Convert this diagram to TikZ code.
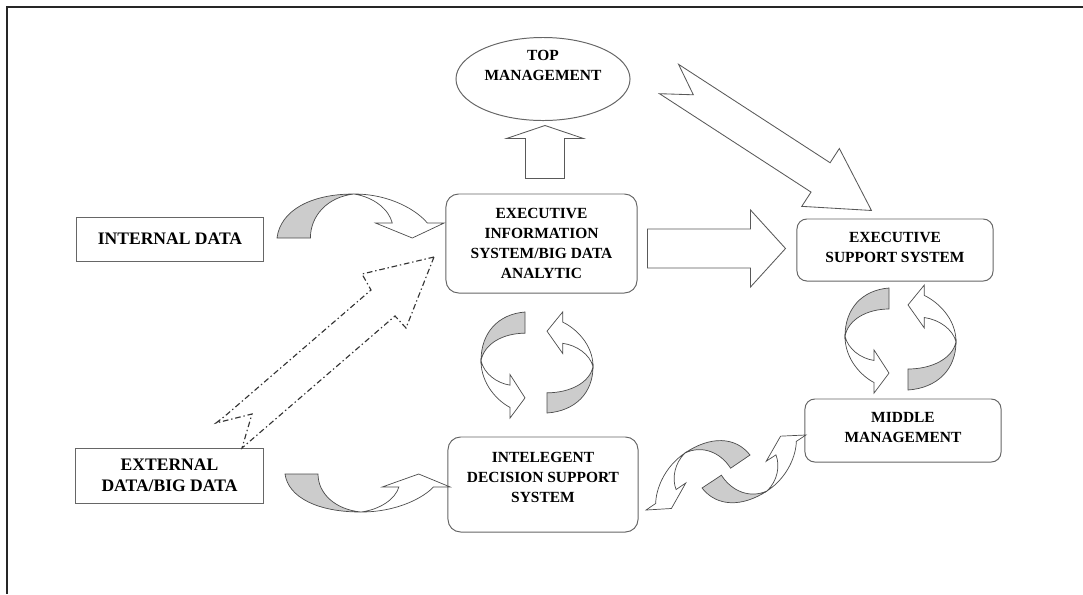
\documentclass[tikz,border=0pt]{standalone}
\usepackage{fontspec}
\setmainfont{Liberation Serif}
\usetikzlibrary{shapes.geometric, calc}

\begin{document}
\begin{tikzpicture}[
  x=0.025cm, y=-0.025cm,
  box/.style={draw=black!60, line width=0.7pt, align=center, inner sep=0pt, font=\fontsize{11}{14.2}\selectfont\bfseries},
  rbox/.style={box, rounded corners=9pt},
  bigtxt/.style={font=\fontsize{12.5}{15}\selectfont\bfseries},
  blk/.style={draw=black!65, line width=0.6pt, fill=white},
  dd/.style={draw=black!80, line width=0.8pt, dash pattern=on 4pt off 2pt on 1pt off 2pt},
  cback/.style={draw=black!70, line width=0.5pt, fill=black!20},
  cfront/.style={draw=black!70, line width=0.5pt, fill=white},
  carrow/.pic={
    \filldraw[cback] (0,0) -- (0.2,0) .. controls (0.2,0.5) and (0.3,0.93) .. (0.46,1)
      .. controls (0.2,1) and (0.02,0.62) .. (0,0) -- cycle;
    \filldraw[cfront] (0.46,1) .. controls (0.68,1) and (0.84,0.62) .. (0.9,0.34)
      -- (1,0.34) -- (0.81,0) -- (0.59,0.34) -- (0.69,0.34)
      .. controls (0.67,0.65) and (0.58,0.93) .. (0.46,1) -- cycle;
  }
]
\useasboundingbox (0,0) rectangle (1083,594);
\draw[line width=1.3pt, black!85] (1083,7) -- (7,7) -- (7,594);

\node[box, bigtxt, minimum width=4.65cm, minimum height=1.1cm] (intd) at (170,239) {INTERNAL DATA};
\node[box, bigtxt, minimum width=4.675cm, minimum height=1.375cm] (extd) at (169.5,475.5) {EXTERNAL\\DATA/BIG DATA};
\node[rbox, minimum width=4.775cm, minimum height=2.475cm] (eis) at (541.5,243.5) {EXECUTIVE\\INFORMATION\\SYSTEM/BIG DATA\\ANALYTIC};
\node[ellipse, draw=black!60, line width=0.7pt, minimum width=4.35cm, minimum height=2.075cm] (top) at (543,79) {};
\node[align=center, font=\fontsize{11}{14.2}\selectfont\bfseries] (topText) at (543,65) {TOP\\MANAGEMENT};
\node[rbox, rounded corners=7pt, text depth=4.2pt, minimum width=4.9cm, minimum height=1.55cm] (ess) at (895,250) {EXECUTIVE\\SUPPORT SYSTEM};
\node[rbox, rounded corners=7pt, text depth=4.2pt, minimum width=4.9cm, minimum height=1.575cm] (mm) at (903,430.5) {MIDDLE\\MANAGEMENT};
\node[rbox, text depth=10.6pt, minimum width=4.75cm, minimum height=2.375cm] (idss) at (543,484.5) {INTELEGENT\\DECISION SUPPORT\\SYSTEM};

\draw[blk, shift={($(eis.north)+(3.5,-15)$)}, rotate=90] (0,19.5) -- (40,19.5) -- (40,38.5) -- (53,0) -- (40,-38.5) -- (40,-19.5) -- (0,-19.5) -- cycle;
\draw[blk, shift={($(eis.east)+(10,5)$)}] (0,19.5) -- (103,19.5) -- (103,38.5) -- (138,0) -- (103,-38.5) -- (103,-19.5) -- (0,-19.5) -- cycle;
\draw[blk, shift={($(top.east)+(38.5,0)$)}, rotate=-33] (0,17.5) -- (180.7,17.5) -- (180.7,34.5) -- (241.4,0) -- (180.7,-34.5) -- (180.7,-17.5) -- (0,-17.5) -- (29,0) -- cycle;

\draw[dd] (434,257) -- (362,274) -- (371,290) -- (225,416) -- (216,423) -- (252,414) -- (242,448) -- (395,316) -- (406,328) -- cycle;

\begin{scope}[shift={(277,238)}, x={(4.175cm,0cm)}, y={(0cm,1.1cm)}] \pic {carrow}; \end{scope}
\begin{scope}[shift={(285,474)}, x={(4.125cm,0cm)}, y={(0cm,-0.95cm)}] \pic {carrow}; \end{scope}
\begin{scope}[shift={(525,312)}, x={(0cm,-2.65cm)}, y={(-1.1cm,0cm)}] \pic {carrow}; \end{scope}
\begin{scope}[shift={(547,413)}, x={(0cm,2.525cm)}, y={(1.15cm,0cm)}] \pic {carrow}; \end{scope}
\begin{scope}[shift={(889,288)}, x={(0cm,-2.625cm)}, y={(-1.1cm,0cm)}] \pic {carrow}; \end{scope}
\begin{scope}[shift={(908,390)}, x={(0cm,2.625cm)}, y={(1.2cm,0cm)}] \pic {carrow}; \end{scope}
\begin{scope}[shift={(750,455)}, x={(-2.425cm,-1.65cm)}, y={(-0.5125cm,0.8075cm)}] \pic {carrow}; \end{scope}
\begin{scope}[shift={(702,488)}, x={(2.425cm,1.6cm)}, y={(0.5125cm,-0.8075cm)}] \pic {carrow}; \end{scope}

\end{tikzpicture}
\end{document}
